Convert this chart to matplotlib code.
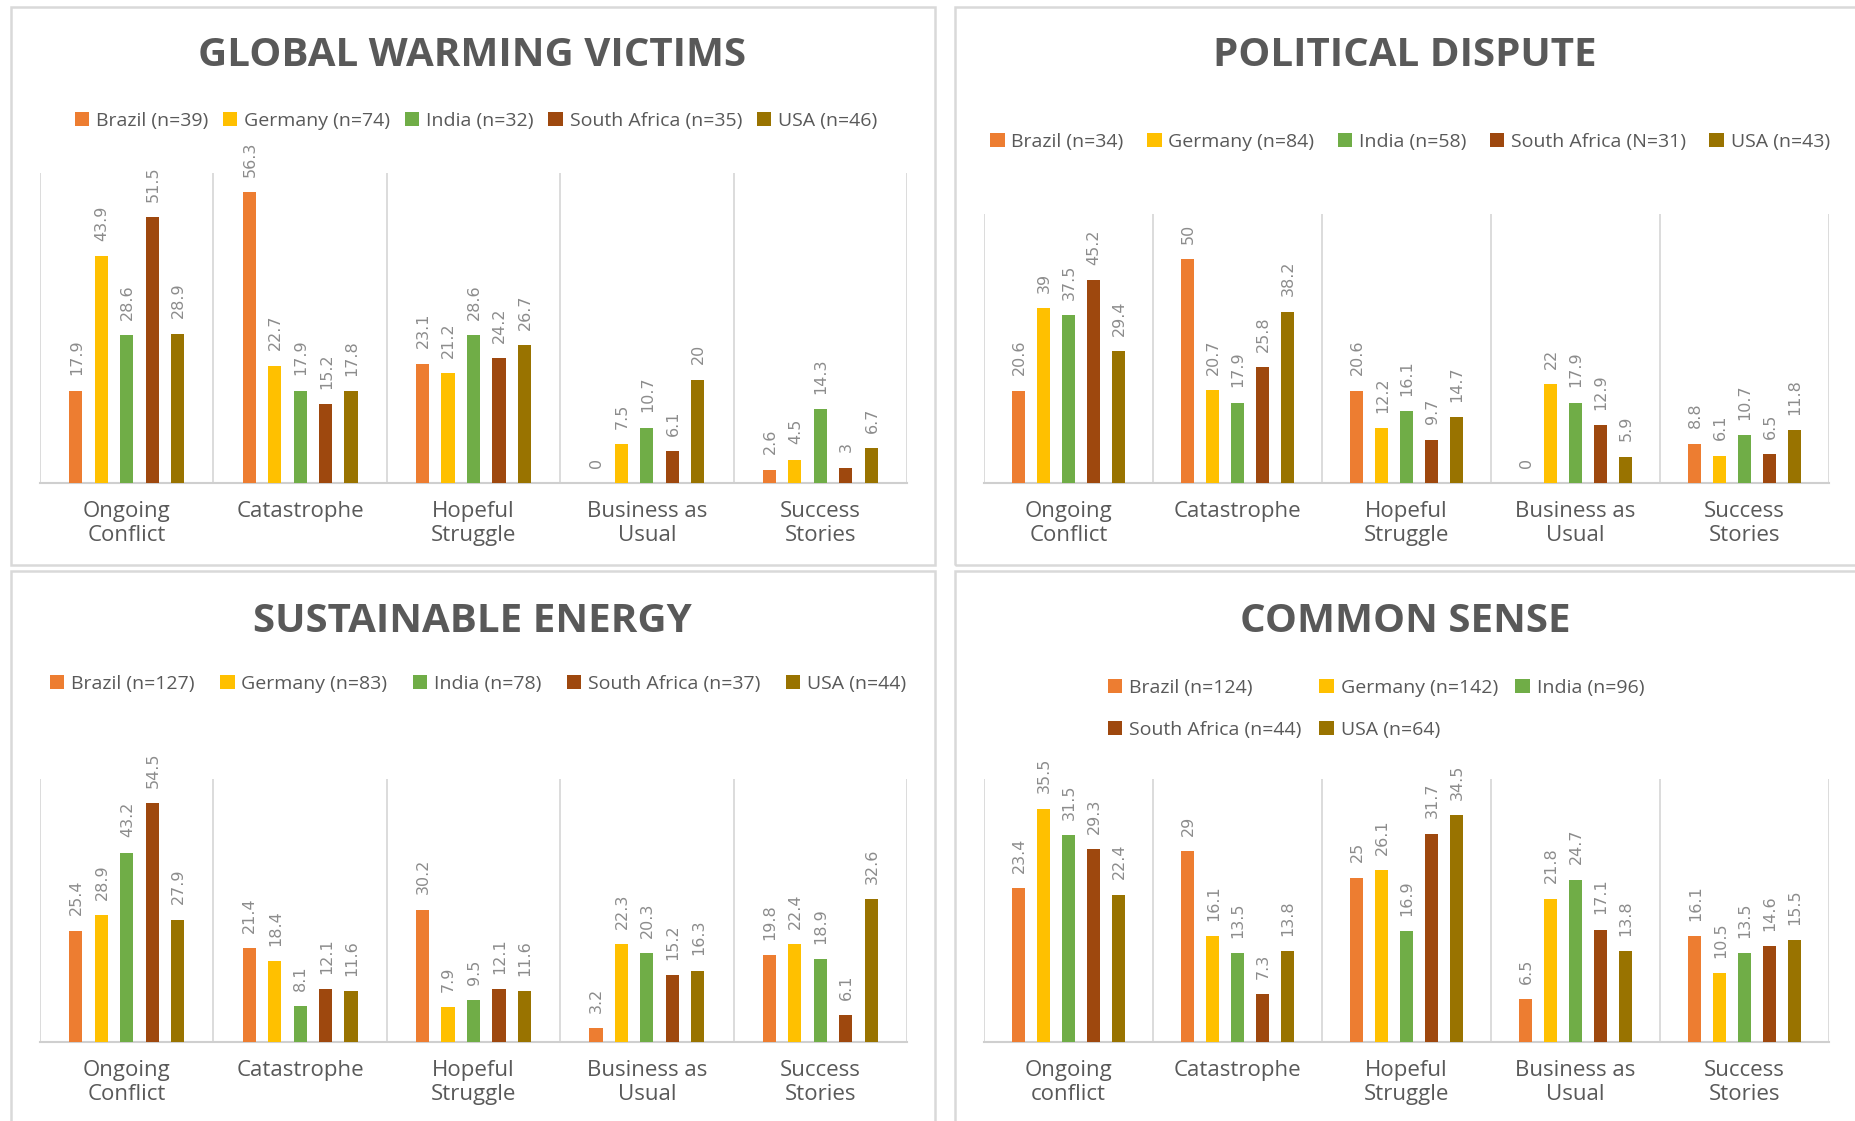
import matplotlib
matplotlib.use("Agg")
import matplotlib.pyplot as plt
from matplotlib.patches import Rectangle
import numpy as np

# categories (x axis)
cats = ["Ongoing\nConflict", "Catastrophe", "Hopeful\nStruggle", "Business as\nUsual", "Success\nStories"]
cats_cs = ["Ongoing\nconflict", "Catastrophe", "Hopeful\nStruggle", "Business as\nUsual", "Success\nStories"]

colors = ["#ED7D31", "#FFC000", "#70AD47", "#9E480E", "#997300"]

# values per country: Brazil, Germany, India, South Africa, USA
gw_labels = ["Brazil (n=39)", "Germany (n=74)", "India (n=32)", "South Africa (n=35)", "USA (n=46)"]
gw_values = [
    [17.9, 56.3, 23.1, 0, 2.6],
    [43.9, 22.7, 21.2, 7.5, 4.5],
    [28.6, 17.9, 28.6, 10.7, 14.3],
    [51.5, 15.2, 24.2, 6.1, 3],
    [28.9, 17.8, 26.7, 20, 6.7],
]

pd_labels = ["Brazil (n=34)", "Germany (n=84)", "India (n=58)", "South Africa (N=31)", "USA (n=43)"]
pd_values = [
    [20.6, 50, 20.6, 0, 8.8],
    [39, 20.7, 12.2, 22, 6.1],
    [37.5, 17.9, 16.1, 17.9, 10.7],
    [45.2, 25.8, 9.7, 12.9, 6.5],
    [29.4, 38.2, 14.7, 5.9, 11.8],
]

se_labels = ["Brazil (n=127)", "Germany (n=83)", "India (n=78)", "South Africa (n=37)", "USA (n=44)"]
se_values = [
    [25.4, 21.4, 30.2, 3.2, 19.8],
    [28.9, 18.4, 7.9, 22.3, 22.4],
    [43.2, 8.1, 9.5, 20.3, 18.9],
    [54.5, 12.1, 12.1, 15.2, 6.1],
    [27.9, 11.6, 11.6, 16.3, 32.6],
]

cs_labels = ["Brazil (n=124)", "Germany (n=142)", "India (n=96)", "South Africa (n=44)", "USA (n=64)"]
cs_values = [
    [23.4, 29, 25, 6.5, 16.1],
    [35.5, 16.1, 26.1, 21.8, 10.5],
    [31.5, 13.5, 16.9, 24.7, 13.5],
    [29.3, 7.3, 31.7, 17.1, 14.6],
    [22.4, 13.8, 34.5, 13.8, 15.5],
]

W, H = 1856, 1121
fig = plt.figure(figsize=(W / 100, H / 100), dpi=100)

def fx(px):
    return px / W

def fy(py):
    return 1 - py / H

# panel frames
for x0, y0, x1, y1 in [(11, 7, 935, 565), (955, 7, 1870, 565), (11, 571, 935, 1130), (955, 571, 1870, 1130)]:
    fig.patches.append(Rectangle((fx(x0), fy(y1)), fx(x1 - x0), (y1 - y0) / H, transform=fig.transFigure,
                                 fill=False, edgecolor="#D9D9D9", lw=1.8))

def panel(box, title, title_xy, labels, values, xcats, ymax, leg_xy, colsp, ncol=5):
    x0, x1, ytop, ybot = box
    ax = fig.add_axes([fx(x0), fy(ybot), fx(x1 - x0), (ybot - ytop) / H])
    x = np.arange(len(xcats))
    step, width = 0.147, 0.076
    handles = []
    for i, (lab, vals) in enumerate(zip(labels, values)):
        pos = x + (i - 2) * step
        b = ax.bar(pos, vals, width, color=colors[i], label=lab, zorder=3)
        handles.append(b)
        for p, v in zip(pos, vals):
            ax.annotate(f"{v:g}", (p, v), xytext=(0.5, 11), textcoords="offset points",
                        rotation=90, ha="center", va="bottom", fontsize=11.5,
                        color="#8C8C8C", family="DejaVu Sans", annotation_clip=False)
    ax.set_xlim(-0.5, len(xcats) - 0.5)
    ax.set_ylim(0, ymax)
    ax.set_xticks(x)
    ax.set_xticklabels(xcats, fontsize=16, color="#595959", family="Open Sans", linespacing=1.2)
    ax.set_xticks(np.arange(-0.5, len(xcats)), minor=True)
    ax.tick_params(axis="x", which="both", length=0, pad=13)
    ax.grid(which="minor", axis="x", color="#D9D9D9", lw=1.3, zorder=0)
    ax.set_yticks([])
    for s in ["top", "left", "right"]:
        ax.spines[s].set_visible(False)
    ax.spines["bottom"].set_color("#CFCFCF")
    ax.spines["bottom"].set_linewidth(1.5)
    fig.text(fx(title_xy[0]), fy(title_xy[1]), title, ha="center", va="center", fontsize=29,
             fontweight="bold", color="#595959", family="Open Sans")
    h, l = handles, labels
    if ncol == 3:
        order = [0, 3, 1, 4, 2]
        h = [handles[k] for k in order]
        l = [labels[k] for k in order]
    fig.legend(h, l, loc="center", bbox_to_anchor=(fx(leg_xy[0]), fy(leg_xy[1])), ncol=ncol,
               frameon=False, prop={"family": "Open Sans", "size": 14}, labelcolor="#595959",
               handlelength=0.75, handleheight=0.75, handletextpad=0.35, columnspacing=colsp,
               labelspacing=1.25, borderaxespad=0, borderpad=0)
    return ax

panel((40, 907, 173, 483), "GLOBAL WARMING VICTIMS", (472, 56), gw_labels, gw_values, cats, 60, (476, 121), 0.75)
panel((984, 1829, 214, 483), "POLITICAL DISPUTE", (1405, 56), pd_labels, pd_values, cats, 60, (1410, 142), 1.2)
panel((40, 907, 779, 1042), "SUSTAINABLE ENERGY", (472, 622), se_labels, se_values, cats, 60, (478, 684), 1.3)
panel((984, 1829, 779, 1042), "COMMON SENSE", (1405, 622), cs_labels, cs_values, cats_cs, 40, (1376, 709), 0.9, ncol=3)

fig.savefig("out.png", dpi=100)
